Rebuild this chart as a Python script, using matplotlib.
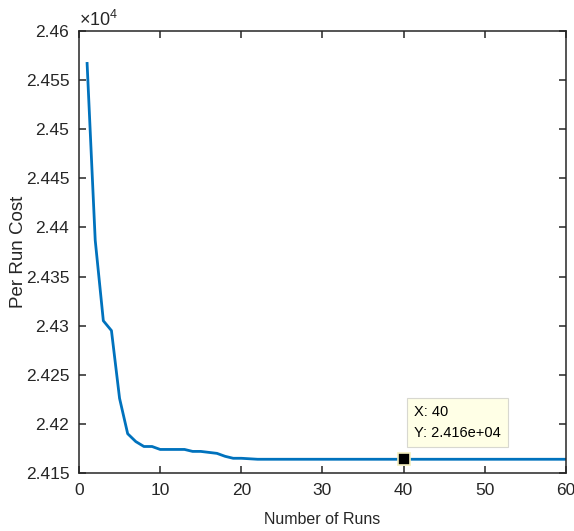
import numpy as np
import matplotlib.pyplot as plt
from matplotlib.ticker import FuncFormatter

plt.rcParams['font.family'] = ['Liberation Sans', 'DejaVu Sans']
plt.rcParams['mathtext.fontset'] = 'custom'
plt.rcParams['mathtext.rm'] = 'Liberation Sans'
plt.rcParams['mathtext.it'] = 'Liberation Sans:italic'

runs = np.arange(1, 61)
cost_head = [24567, 24387, 24305, 24295, 24226, 24190, 24182, 24177, 24177, 24174,
             24174, 24174, 24174, 24172, 24172, 24171, 24170, 24167, 24165, 24165,
             24164.5, 24164]
cost = np.array(cost_head + [24164] * (len(runs) - len(cost_head)))

tip_x = 40
tip_y = cost[tip_x - 1]

fig = plt.figure(figsize=(5.74, 5.31), dpi=100)
ax = fig.add_axes([0.1376, 0.1092, 0.8484, 0.8324])

ax.plot(runs, cost, color='#0072BD', lw=2.0)
ax.plot([tip_x], [tip_y], marker='s', ms=8.5, mfc='black', mec='#f3eebc', mew=1.2)

ax.set_xlim(0, 60)
ax.set_ylim(24150, 24600)
ax.set_xticks(np.arange(0, 61, 10))
ax.set_yticks(np.arange(24150, 24601, 50))
ax.yaxis.set_major_formatter(FuncFormatter(lambda v, p: '%g' % round(v / 1e4, 4)))

dark = '#262626'
for s in ax.spines.values():
    s.set_color(dark)
    s.set_linewidth(1.1)
ax.tick_params(direction='in', top=True, right=True, length=5, width=1.1,
               color=dark, labelcolor=dark, labelsize=12.5, pad=7)

ax.set_xlabel('Number of Runs', fontsize=11.5, color=dark, labelpad=10)
ax.set_ylabel('Per Run Cost', fontsize=13.5, color=dark)
ax.yaxis.set_label_coords(-0.106, 0.5)

ax.text(0.0, 1.003, r'$\times\mathrm{10}^{4}$', transform=ax.transAxes, fontsize=13,
        color=dark, ha='left', va='bottom')

ax.text(tip_x + 1.3, tip_y + 20, 'X: 40\nY: 2.416e+04', fontsize=10.5, color='black',
        ha='left', va='bottom', linespacing=1.6,
        bbox=dict(boxstyle='square,pad=0.5', fc='#ffffe6', ec='#d8d8d0', lw=0.8))

fig.savefig('out.png', dpi=100)
